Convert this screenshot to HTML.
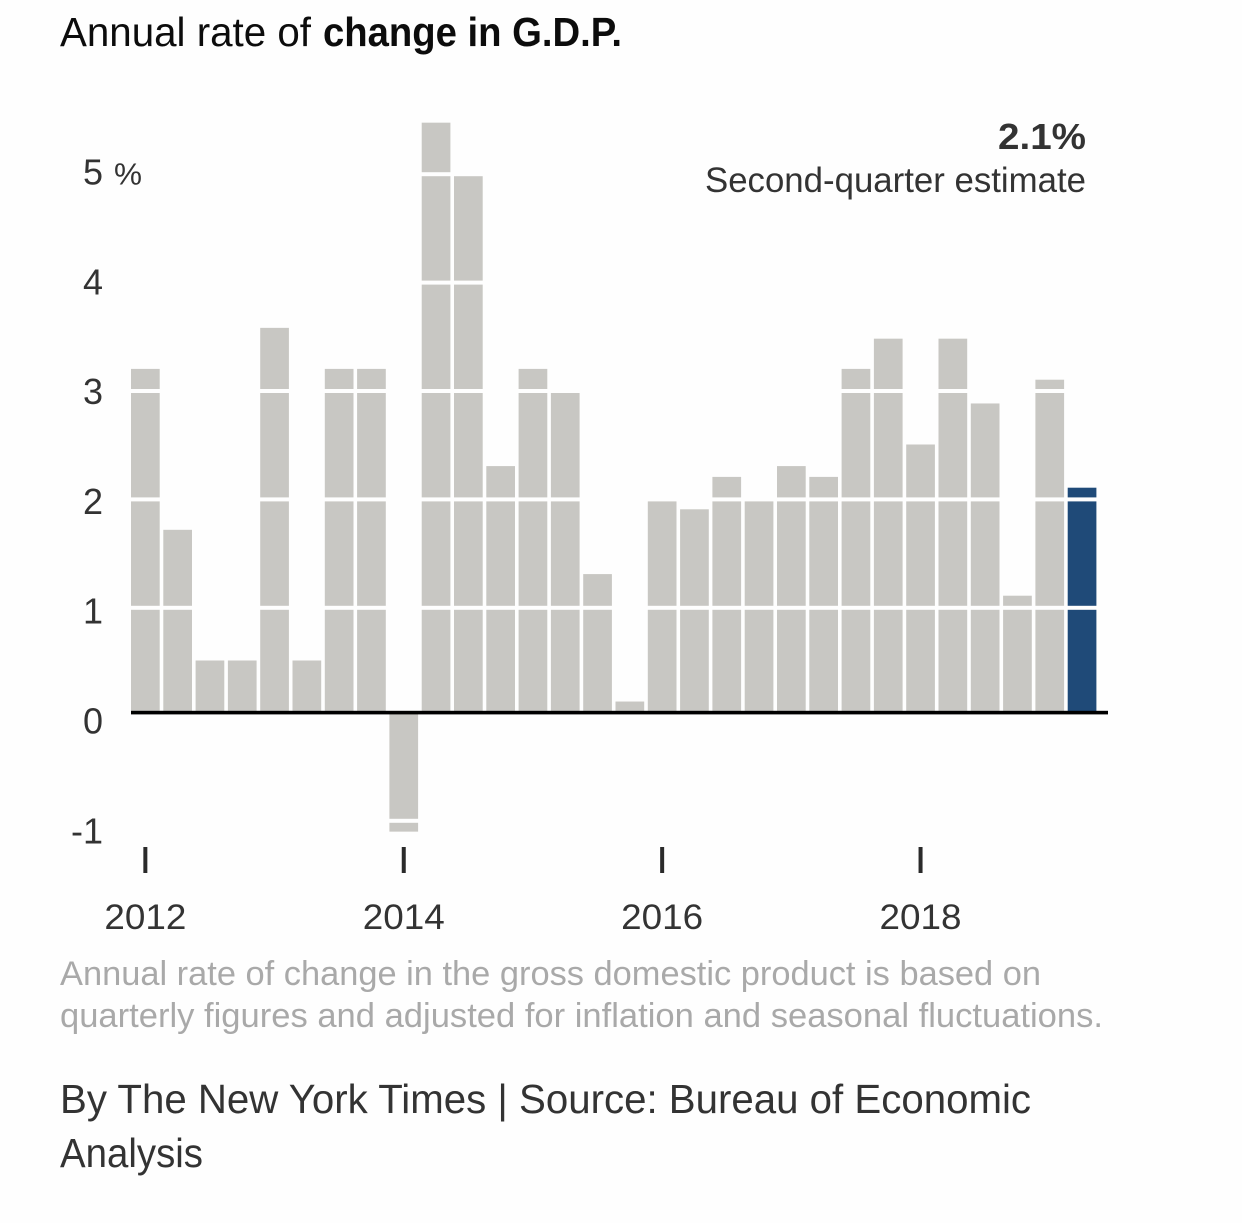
<!DOCTYPE html>
<html lang="en">
<head>
<meta charset="utf-8">
<title>Annual rate of change in G.D.P.</title>
<style>
html,body{margin:0;padding:0;background:#fff;}
svg{display:block;font-family:"Liberation Sans",sans-serif;}
</style>
</head>
<body>
<svg id="chart" xmlns="http://www.w3.org/2000/svg" width="1242" height="1223" viewBox="0 0 1242 1223">
  <rect x="0" y="0" width="1242" height="1223" fill="#fefefe"/>
  <text y="46" font-size="41" fill="#0c0c0c"><tspan x="60" textLength="251" lengthAdjust="spacingAndGlyphs">Annual rate of</tspan><tspan x="323" font-weight="bold" textLength="299" lengthAdjust="spacingAndGlyphs">change in G.D.P.</tspan></text>
  <g id="bars"></g>
  <g id="gridlines"></g>
  <g id="y-labels"></g>
  <g id="x-axis"></g>
  <text x="998" y="149" font-size="36" font-weight="bold" fill="#333" textLength="88" lengthAdjust="spacingAndGlyphs">2.1%</text>
  <text x="705" y="192" font-size="35" fill="#333" textLength="381" lengthAdjust="spacingAndGlyphs">Second-quarter estimate</text>
  <text x="60" y="985" font-size="34" fill="#a9a9a9" textLength="981" lengthAdjust="spacingAndGlyphs">Annual rate of change in the gross domestic product is based on</text>
  <text x="60" y="1027" font-size="34" fill="#a9a9a9" textLength="1043" lengthAdjust="spacingAndGlyphs">quarterly figures and adjusted for inflation and seasonal fluctuations.</text>
  <text x="60" y="1113" font-size="41" fill="#333" textLength="971" lengthAdjust="spacingAndGlyphs">By The New York Times | Source: Bureau of Economic</text>
  <text x="60" y="1167" font-size="41" fill="#333" textLength="143" lengthAdjust="spacingAndGlyphs">Analysis</text>
</svg>
<script>
var quarters = ["2012Q1","2012Q2","2012Q3","2012Q4","2013Q1","2013Q2","2013Q3","2013Q4","2014Q1","2014Q2","2014Q3","2014Q4","2015Q1","2015Q2","2015Q3","2015Q4","2016Q1","2016Q2","2016Q3","2016Q4","2017Q1","2017Q2","2017Q3","2017Q4","2018Q1","2018Q2","2018Q3","2018Q4","2019Q1","2019Q2"];
var gdpValues = [3.2,1.71,0.5,0.5,3.58,0.5,3.2,3.2,-1.1,5.48,5.0,2.3,3.2,3.0,1.3,0.12,2.0,1.9,2.2,2.0,2.3,2.2,3.2,3.48,2.5,3.48,2.88,1.1,3.1,2.1];
var yTicks = [5,4,3,2,1,0,-1];
var gridTicks = [5,4,3,2,1,-1];
var yearLabels = ["2012","2014","2016","2018"];
var yearStarts = ["2012Q1","2014Q1","2016Q1","2018Q1"];
var highlightQuarter = "2019Q2";

var NS = "http://www.w3.org/2000/svg";
var AXIS_Y = 712.5;
var BAR_W = 28.7;

function xScale(i){ return 131 + i * 32.3; }
function yScale(v){ return v >= 0 ? 714.5 - 108 * v : 712.5 - 108.3 * v; }
function gridY(v){ return v >= 0 ? 716.2 - 108.4 * v : 712.5 - 108.3 * v; }
function labelY(v){ return 733.5 - 109.8 * v; }

function make(tag, parent, attrs){
  var el = document.createElementNS(NS, tag);
  for (var k in attrs) el.setAttribute(k, attrs[k]);
  parent.appendChild(el);
  return el;
}

var barsG = document.getElementById("bars");
gdpValues.forEach(function(v, i){
  var top = v >= 0 ? yScale(v) : AXIS_Y;
  var bottom = v >= 0 ? AXIS_Y : yScale(v);
  var r = make("rect", barsG, {x: xScale(i), y: top, width: BAR_W, height: bottom - top,
    fill: quarters[i] === highlightQuarter ? "#1f4a78" : "#c8c7c3"});
  
  
});

var gridG = document.getElementById("gridlines");
gridTicks.forEach(function(v){
  var g = make("rect", gridG, {x: 125, y: gridY(v) - 2, width: 978, height: 4, fill: "#fefefe"});
  
  
});

var labG = document.getElementById("y-labels");
yTicks.forEach(function(v){
  var t = make("text", labG, {x: 103, y: labelY(v), "text-anchor": "end", "font-size": 36, fill: "#333"});
  t.textContent = String(v);
  
  
});
var pct = make("text", labG, {x: 114, y: labelY(5), "font-size": 31, fill: "#333", textLength: 28, lengthAdjust: "spacingAndGlyphs"});
pct.textContent = "%";



var xG = document.getElementById("x-axis");
var axis = make("rect", xG, {x: 131, y: AXIS_Y - 1.7, width: 977, height: 3.6, fill: "#000"});



yearLabels.forEach(function(label, j){
  var i = quarters.indexOf(yearStarts[j]);
  var cx = xScale(i) + BAR_W / 2;
  var tick = make("rect", xG, {x: cx - 2, y: 847, width: 4, height: 26, fill: "#2a2a2a"});
  
  
  var t = make("text", xG, {x: cx, y: 929, "text-anchor": "middle", "font-size": 35, fill: "#333", textLength: 82, lengthAdjust: "spacingAndGlyphs"});
  t.textContent = label;
  
  
});
</script>
</body>
</html>
